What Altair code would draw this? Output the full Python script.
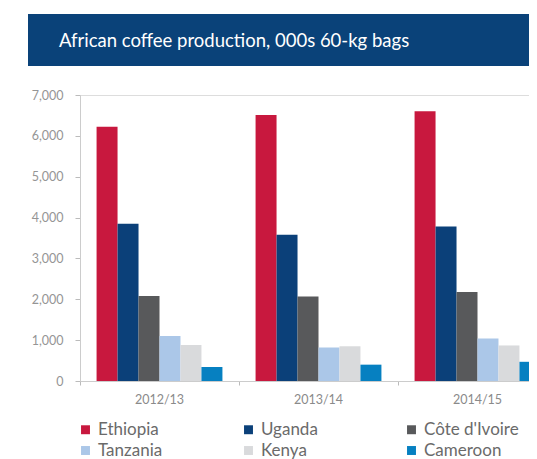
import altair as alt
import pandas as pd

seasons = ["2012/13", "2013/14", "2014/15"]
countries = ["Ethiopia", "Uganda", "Côte d'Ivoire", "Tanzania", "Kenya", "Cameroon"]
colors = ["#c8183e", "#0b4079", "#58595b", "#abc7e8", "#d9dadc", "#0680c1"]
ethiopia = [6220, 6510, 6600]
uganda = [3850, 3580, 3780]
cote_divoire = [2080, 2070, 2180]
tanzania = [1100, 820, 1040]
kenya = [880, 850, 870]
cameroon = [340, 400, 470]
title_text = "African coffee production, 000s 60-kg bags"

series = [ethiopia, uganda, cote_divoire, tanzania, kenya, cameroon]
rows = []
for c, vals in zip(countries, series):
    for s, v in zip(seasons, vals):
        rows.append({"season": s, "country": c, "value": v})
df = pd.DataFrame(rows)

FONT = "Lato"
W, H = 449, 286

bars = alt.Chart(df).mark_bar().encode(
    x=alt.X("season:N", sort=seasons,
            scale=alt.Scale(range=[0, 477], paddingInner=0, paddingOuter=0),
            axis=alt.Axis(title=None, labelAngle=0, bandPosition=0, ticks=True,
                          tickSize=4, tickColor="#bbbbbb", domainColor="#cccccc",
                          labelColor="#8a8a8a", labelFont=FONT, labelFontSize=12.5,
                          labelPadding=8, grid=False)),
    xOffset=alt.XOffset("country:N", sort=countries,
                        scale=alt.Scale(paddingOuter=0.79, paddingInner=0)),
    y=alt.Y("value:Q", scale=alt.Scale(domain=[0, 7000], nice=False),
            axis=alt.Axis(title=None, values=[0, 1000, 2000, 3000, 4000, 5000, 6000, 7000],
                          format=",d", tickSize=5, tickColor="#bbbbbb", domainColor="#cccccc",
                          labelColor="#959595", labelFont=FONT, labelFontSize=12.5,
                          labelPadding=12, grid=False)),
    color=alt.Color("country:N", sort=countries,
                    scale=alt.Scale(domain=countries, range=colors),
                    legend=alt.Legend(title=None, orient="none", legendX=-3, legendY=326,
                                      direction="horizontal", columns=3,
                                      gridAlign="all", columnPadding=47, rowPadding=3,
                                      symbolType="square", symbolSize=80,
                                      symbolStrokeWidth=0, labelFont=FONT,
                                      labelFontSize=17, labelColor="#6a6a6a",
                                      labelOffset=4, padding=0)),
)

banner_df = pd.DataFrame({"label": [title_text]})
banner = alt.Chart(banner_df).mark_rect(color="#0a4279").encode(
    x=alt.value(-52), x2=alt.value(470), y=alt.value(-81), y2=alt.value(-29)
)
title = alt.Chart(banner_df).mark_text(
    align="left", baseline="middle", color="white", font=FONT, fontSize=18.5
).encode(
    x=alt.value(-21), y=alt.value(-54), text="label:N"
)

chart = alt.layer(banner, title, bars).properties(
    width=W, height=H,
    autosize=alt.AutoSizeParams(type="none"),
    padding={"left": 72, "top": 87, "right": 0, "bottom": 78},
).configure_view(stroke=None).configure(background="white")

chart.save("out.html", embed_options={"renderer": "svg", "actions": False})
